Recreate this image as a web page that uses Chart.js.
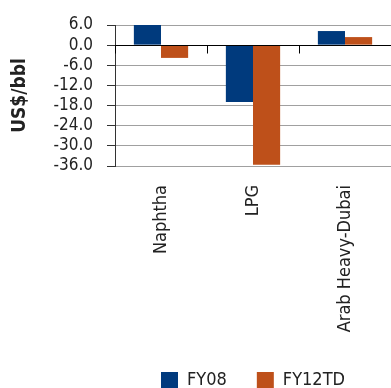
<!DOCTYPE html>
<html>
<head>
<meta charset="utf-8">
<script src="https://cdn.jsdelivr.net/npm/chart.js@4/dist/chart.umd.min.js"></script>
<style>
  html, body { margin: 0; padding: 0; background: #fff; }
  #wrap { width: 391px; height: 388px; position: relative; }
</style>
</head>
<body>
<div id="wrap"><canvas id="c"></canvas></div>
<script>
// Price differentials, US$/bbl
const categories = ['Naphtha', 'LPG', 'Arab Heavy-Dubai'];
const fy08 = [6.0, -16.9, 4.2];
const fy12td = [-3.8, -35.6, 2.4];
const seriesNames = ['FY08', 'FY12TD'];
const yMin = -36, yMax = 6, yStep = 6;
const yTitle = 'US$/bbl';

const FONT = "'DejaVu Sans Condensed', 'DejaVu Sans', sans-serif";
const BLUE = '#003a7d';
const ORANGE = '#be501a';
const TEXT = '#222222';

// Black zero line with short category-boundary ticks, drawn over the bars
const zeroAxis = {
  id: 'zeroAxis',
  afterDatasetsDraw(chart) {
    const { ctx, chartArea: a, scales: { x, y } } = chart;
    const y0 = Math.round(y.getPixelForValue(0)) + 0.5;
    ctx.save();
    ctx.strokeStyle = '#000';
    ctx.lineWidth = 1;
    ctx.beginPath();
    ctx.moveTo(a.left, y0);
    ctx.lineTo(a.right, y0);
    for (let i = 0; i <= categories.length; i++) {
      const px = Math.round(x.getPixelForValue(i - 0.5)) + 0.5;
      ctx.moveTo(px, y0);
      ctx.lineTo(px, y0 + 8);
    }
    ctx.stroke();
    ctx.restore();
  }
};

// Keep the legend row compact while leaving wide gaps between items
const legendHeight = {
  id: 'legendHeight',
  beforeInit(chart) {
    const lg = chart.legend;
    if (!lg) return;
    const fit = lg.fit;
    lg.fit = function () {
      fit.call(this);
      this.height = 47;
    };
  }
};

new Chart(document.getElementById('c'), {
  type: 'bar',
  data: {
    labels: categories,
    datasets: [
      { label: seriesNames[0], data: fy08, backgroundColor: BLUE },
      { label: seriesNames[1], data: fy12td, backgroundColor: ORANGE }
    ]
  },
  options: {
    responsive: true,
    maintainAspectRatio: false,
    animation: false,
    categoryPercentage: 0.59,
    barPercentage: 1.0,
    layout: { padding: { left: 0, right: 0, top: 25, bottom: 0 } },
    plugins: {
      tooltip: { enabled: false },
      legend: {
        position: 'bottom',
        fullSize: false,
        labels: {
          boxWidth: 17,
          boxHeight: 16,
          padding: 30,
          color: TEXT,
          font: { family: FONT, size: 18 }
        }
      }
    },
    scales: {
      x: {
        grid: { display: false, drawTicks: false },
        border: { display: false },
        ticks: {
          color: TEXT,
          font: { family: FONT, size: 18 },
          maxRotation: 90,
          minRotation: 90,
          autoSkip: false,
          padding: 19
        },
        afterFit(scale) { scale.height = 175; }
      },
      y: {
        min: yMin,
        max: yMax,
        ticks: {
          stepSize: yStep,
          autoSkip: false,
          color: TEXT,
          padding: 14,
          font: { family: FONT, size: 17, lineHeight: 1.0 },
          callback: (v) => Number(v).toFixed(1)
        },
        grid: {
          color: '#a0a0a0',
          lineWidth: 1,
          tickLength: 8,
          tickColor: '#333333'
        },
        border: { color: '#333333', width: 1 },
        title: {
          display: true,
          text: yTitle,
          color: TEXT,
          padding: { top: 9, bottom: 0 },
          font: { family: FONT, size: 19, weight: 'bold' }
        },
        afterFit(scale) { scale.width = 115; }
      }
    }
  },
  plugins: [zeroAxis, legendHeight]
});
</script>
</body>
</html>
